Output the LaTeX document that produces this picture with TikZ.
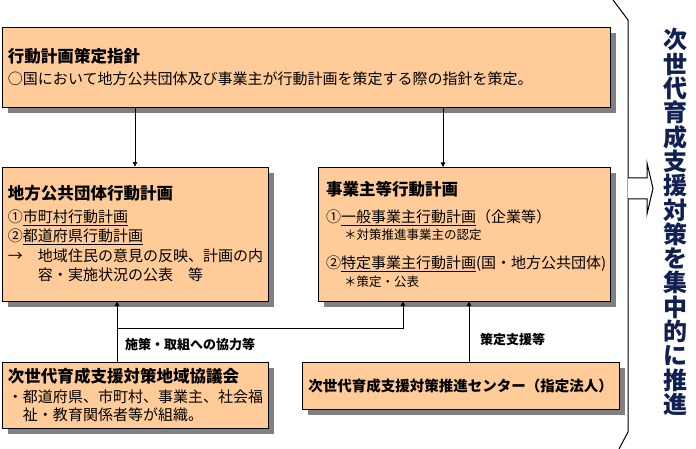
\documentclass[tikz,border=0pt]{standalone}
\usepackage{fontspec}
\setmainfont{Noto Sans CJK JP}
\usetikzlibrary{arrows.meta, shadows}

\definecolor{peach}{RGB}{255,204,153}
\definecolor{shade}{RGB}{128,128,128}
\definecolor{navy}{RGB}{16,32,80}

\newcommand{\hdfont}{\bfseries\fontsize{16.5}{20}\selectfont}
\newcommand{\notefont}{\fontsize{12.5}{16}\selectfont}

\begin{document}
\begin{tikzpicture}[x=1pt, y=-1pt,
  box/.style={rectangle, draw=black, line width=0.9pt, fill=peach, align=left, inner xsep=6pt, inner ysep=0pt, font=\fontsize{15}{19.5}\selectfont, drop shadow={shadow xshift=6pt, shadow yshift=-6pt, fill=shade, opacity=1}},
  fl/.style={-{Triangle[length=4.5pt,width=4.5pt]}, line width=0.8pt},
  lbl/.style={font=\bfseries\fontsize{13}{15}\selectfont, inner sep=1pt}
]
  \useasboundingbox (0,0) rectangle (696,449);

  \node[box, minimum width=608pt, minimum height=80pt, text width=596pt] (guide) at (306,67) {{\hdfont 行動計画策定指針}\\[2pt] ○国において地方公共団体及び事業主が行動計画を策定する際の指針を策定。};
  \node[box, minimum width=266pt, minimum height=134pt, text width=254pt] (localplan) at (135,234) {{\hdfont 地方公共団体行動計画}\\[3pt] ①\underline{市町村行動計画}\\ ②\underline{都道府県行動計画}\\ \makebox[2em][l]{→}地域住民の意見の反映、計画の内\\ \hspace*{2em}容・実施状況の公表　等};
  \node[box, minimum width=292pt, minimum height=134pt, text width=276pt, inner xsep=8pt] (bizplan) at (464,234) {{\hdfont 事業主等行動計画}\\[8pt] ①\underline{一般事業主行動計画}（企業等）\\[-3pt] \hspace*{1.2em}{\notefont ＊対策推進事業主の認定}\\[10pt] ②\underline{特定事業主行動計画}(国・地方公共団体)\\[-2pt] \hspace*{1.2em}{\notefont ＊策定・公表}};
  \node[box, minimum width=266pt, minimum height=66pt, text width=254pt] (council) at (135,395) {{\hdfont 次世代育成支援対策地域協議会}\\ ・都道府県、市町村、事業主、社会福\\[-1.5pt] \hspace*{1em}祉・教育関係者等が組織。};
  \node[box, minimum width=317pt, minimum height=47pt, text width=305pt, align=center, font=\bfseries\fontsize{14.5}{17}\selectfont] (center) at (460.5,385.5) {次世代育成支援対策推進センター（指定法人）};

  % plans from the guideline
  \coordinate (bizin) at (443,167);
  \draw[fl] (guide.south -| localplan.north) -- (localplan.north);
  \draw[fl] (guide.south -| bizin) -- (bizin);

  % support from below
  \coordinate (coopL) at (117,328);
  \coordinate (coopR) at (403,328);
  \coordinate (supp) at (469,362);
  \draw[fl] (council.north -| coopL) -- (localplan.south -| coopL);
  \draw[fl] (coopL) -- (coopR) -- (bizplan.south -| coopR);
  \draw[fl] (supp) -- (bizplan.south -| supp);
  \node[lbl, anchor=west] (cooplbl) at (124,345) {施策・取組への協力等};
  \node[lbl, anchor=west] (supplbl) at (479,340) {策定支援等};

  % bracket and result
  \draw[line width=1pt] (613,0) -- (628,20) -- (628,432) -- (619,449);
  \draw[line width=1pt, fill=white] (628,178) -- (647,178) -- (647,163) -- (653,188.5) -- (647,214) -- (647,199) -- (628,199);
  \node[font=\bfseries\fontsize{24}{24.3}\selectfont, text=navy, align=center, inner sep=0pt] (slogan) at (675,222) {次\\世\\代\\育\\成\\支\\援\\対\\策\\を\\集\\中\\的\\に\\推\\進};
\end{tikzpicture}
\end{document}
